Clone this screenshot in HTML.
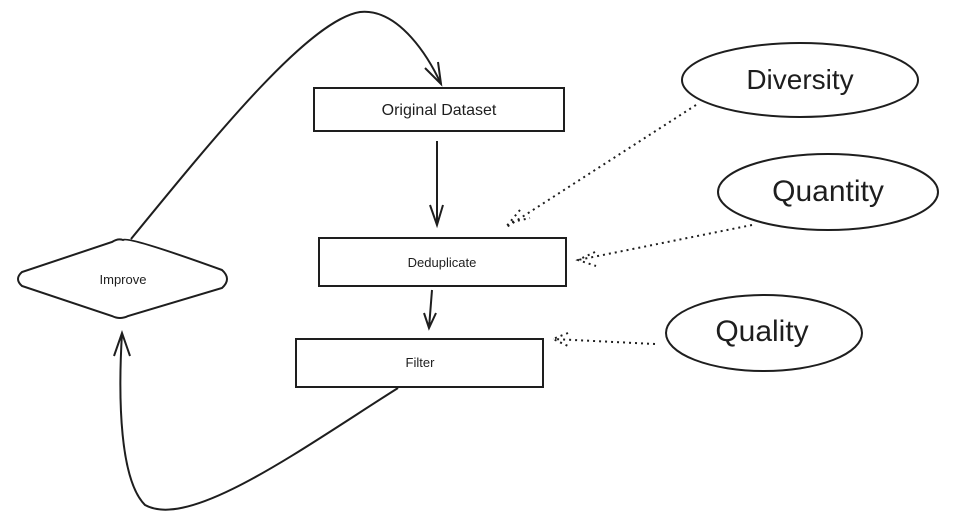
<html><body style="margin:0;background:#fff">
<svg width="974" height="522" xmlns="http://www.w3.org/2000/svg" style="font-family:'Comic Sans MS','Liberation Sans',sans-serif">
<g fill="none" stroke="#1e1e1e" stroke-width="2">
<rect x="314" y="88" width="250" height="43"/>
<rect x="319" y="238" width="247" height="48"/>
<rect x="296" y="339" width="247" height="48"/>
<path d="M123 240 Q128 236 222 270 Q232 279 222 288 L128 316 Q120 320 112 316 L22 286 Q14 279 22 272 L112 242 Q118 238 123 240Z"/>
<ellipse cx="800" cy="80" rx="118" ry="37"/>
<ellipse cx="828" cy="192" rx="110" ry="38"/>
<ellipse cx="764" cy="333" rx="98" ry="38"/>
<path d="M131 239 C220 130 310 20 360 12 C400 8 430 60 441 84"/>
<path d="M425 68 L441 84 L438 62"/>
<path d="M437 141 L437 225 M430 205 L437 225 L443 205"/>
<path d="M432 290 L429 328 M424 313 L429 328 L436 313"/>
<path d="M398 388 C300 450 190 530 145 505 C120 480 118 400 122 333 M114 356 L122 333 L130 356"/>
</g>
<g fill="none" stroke="#1e1e1e" stroke-width="2" stroke-dasharray="2 4">
<path d="M696 105 L505 228 M520 210 L505 228 M512 222 L530 218"/>
<path d="M752 225 L578 260 M595 252 L578 260 L596 266"/>
<path d="M655 344 L553 339 M568 333 L553 339 L568 346"/>
</g>
<g fill="#1e1e1e" text-anchor="middle">
<text x="439" y="115" font-size="16">Original Dataset</text>
<text x="442" y="267" font-size="13">Deduplicate</text>
<text x="420" y="367" font-size="13">Filter</text>
<text x="123" y="284" font-size="13">Improve</text>
<text x="800" y="89" font-size="28">Diversity</text>
<text x="828" y="201" font-size="30">Quantity</text>
<text x="762" y="341" font-size="30">Quality</text>
</g>
</svg>
</body></html>
